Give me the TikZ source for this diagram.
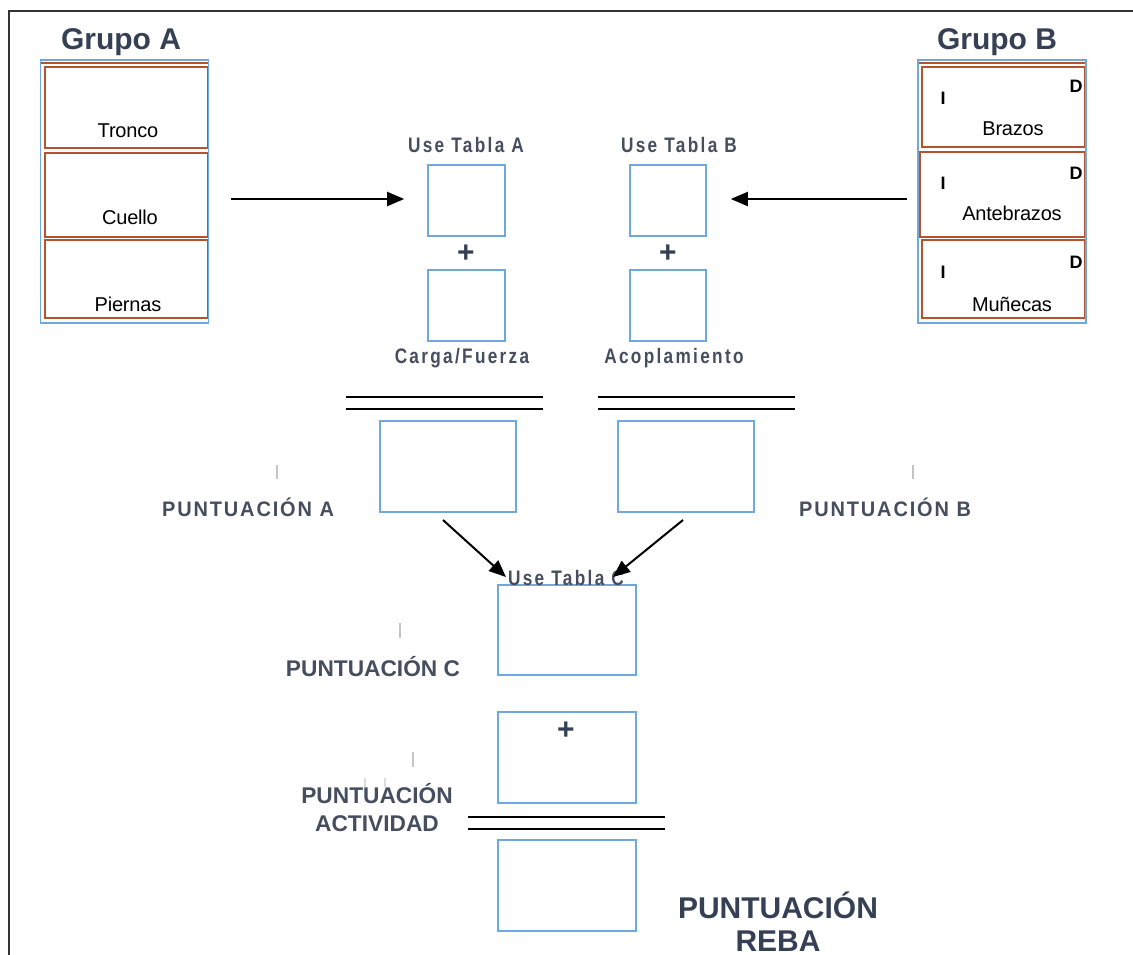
\documentclass[tikz,border=0pt]{standalone}
\usepackage{fontspec}
\setmainfont{Liberation Sans}
\newfontfamily\condf[FakeStretch=0.82,LetterSpace=11,BoldFont={Liberation Sans Bold}]{Liberation Sans}
\newfontfamily\scoref[FakeStretch=0.95,LetterSpace=9,BoldFont={Liberation Sans Bold}]{Liberation Sans}
\newfontfamily\tightf[LetterSpace=-1]{Liberation Sans}
\usetikzlibrary{arrows.meta,calc}
\definecolor{boxblue}{HTML}{6FA8DC}
\definecolor{partorange}{HTML}{B5532C}
\definecolor{headdark}{HTML}{354055}
\definecolor{labgray}{HTML}{454D5E}
\definecolor{tickgray}{HTML}{C4C4C4}
\begin{document}
\begin{tikzpicture}[x=1pt,y=-1pt,
  scorebox/.style={draw=boxblue,line width=1.6pt,minimum width=#1,inner sep=0pt},
  part/.style={draw=partorange,line width=2pt},
  head/.style={font=\bfseries\fontsize{30}{32}\selectfont,text=headdark,inner sep=0pt},
  partname/.style={font=\tightf\fontsize{20}{22}\selectfont,inner sep=0pt},
  side/.style={font=\bfseries\fontsize{18}{20}\selectfont,inner sep=0pt},
  tablab/.style={font=\condf\bfseries\fontsize{21}{23}\selectfont,text=labgray,inner sep=0pt},
  scorelab/.style={font=\scoref\bfseries\fontsize{21}{24}\selectfont,text=labgray,inner sep=0pt},
  plainlab/.style={font=\bfseries\fontsize{22.7}{28}\selectfont,text=labgray,inner sep=0pt,align=center},
  biglab/.style={font=\bfseries\fontsize{30}{32.5}\selectfont,text=headdark,inner sep=0pt,align=center},
  plus/.style={font=\bfseries\fontsize{30}{30}\selectfont,text=headdark,inner sep=0pt},
  arr/.style={-{Triangle[length=17pt,width=14pt]},line width=2pt,black},
  eqline/.style={line width=2.2pt,black},
  tick/.style={draw=tickgray,line width=2pt}]
\useasboundingbox (0,0) rectangle (1133,954);
% outer frame (open to the right and bottom)
\draw[line width=2.5pt,black!80] (9,960) -- (9,11) -- (1140,11);

% ---- Group A ----
\node[head] (grpAt) at (121,42) {Grupo A};
\draw[part] (41,63) -- (208,63);
\draw[part] (45,67) rectangle (208,148);
\draw[part] (45,153) rectangle (208,237);
\draw[part] (45,240) rectangle (208,318);
\node[draw=boxblue,line width=1.6pt,minimum width=168pt,minimum height=263pt,inner sep=0pt] (grpA) at (124.5,191.5) {};
\node[partname] (tronco) at (128,131) {Tronco};
\node[partname] (cuello) at (130,217) {Cuello};
\node[partname] (piernas) at (128,304) {Piernas};

% ---- Group B ----
\node[head] (grpBt) at (997,42) {Grupo B};
\draw[part] (919,63) -- (1085,63);
\draw[part] (922,67) rectangle (1085,147);
\draw[part] (920,152) rectangle (1085,237);
\draw[part] (922,240) rectangle (1085,318);
\node[draw=boxblue,line width=1.6pt,minimum width=168pt,minimum height=263pt,inner sep=0pt] (grpB) at (1002,191.5) {};
\node[partname] (brazos) at (1013,129) {Brazos};
\node[partname] (antebr) at (1012,213) {Antebrazos};
\node[partname] (munecas) at (1012,304) {Muñecas};
\foreach \n/\yi/\yd in {1/98/86,2/183/173,3/272/262}{
  \node[side] (izq\n) at (943,\yi) {I};
  \node[side] (der\n) at (1076,\yd) {D};
}

% ---- Tables A and B ----
\node[tablab] (tabA) at (466,145) {Use Tabla A};
\node[scorebox=77pt,minimum height=71pt] (boxA) at (466.5,200.5) {};
\node[plus] (plusA) at (466,254) {+};
\node[scorebox=77pt,minimum height=71pt] (cargaBox) at (466.5,305.5) {};
\node[tablab] (carga) at (462,358) {Carga/Fuerza};

\node[tablab] (tabB) at (679,145) {Use Tabla B};
\node[scorebox=76pt,minimum height=71pt] (boxB) at (668,200.5) {};
\node[plus] (plusB) at (668,254) {+};
\node[scorebox=76pt,minimum height=71pt] (acopBox) at (668,305.5) {};
\node[tablab] (acop) at (674,358) {Acoplamiento};

\coordinate (tailA) at (231,199);
\coordinate (tailB) at (907,199);
\draw[arr,shorten >=23pt] (tailA) -- (boxA.west |- tailA);
\draw[arr,shorten >=24pt] (tailB) -- (boxB.east |- tailB);

% sum lines
\draw[eqline] (346,397) -- (543,397) (346,409) -- (543,409);
\draw[eqline] (598,397) -- (795,397) (598,409) -- (795,409);

% ---- Scores A and B ----
\node[scorebox=136pt,minimum height=91pt] (scoreA) at (448,466.5) {};
\node[scorebox=136pt,minimum height=91pt] (scoreB) at (686,466.5) {};
\draw[tick] (277,465) -- (277,479);
\draw[tick] (913,465) -- (913,479);
\node[scorelab] (puntA) at (248,507) {PUNTUACIÓN A};
\node[scorelab] (puntB) at (885,507) {PUNTUACIÓN B};

% ---- Table C ----
\node[scorebox=138pt,minimum height=90pt] (scoreC) at (567,630) {};
\coordinate (tipA) at (506,577);
\coordinate (tipB) at (613,577);
\coordinate (fromA) at (443,520);
\coordinate (fromB) at (683,520);
\node[tablab] (tabC) at (566,578) {Use Tabla C};
\draw[arr] (fromA) -- (tipA);
\draw[arr] (fromB) -- (tipB);
\draw[tick] (400,623) -- (400,638);
\node[plainlab] (puntC) at (373,667) {PUNTUACIÓN C};

% ---- Activity ----
\node[scorebox=138pt,minimum height=91pt] (act) at (567,757.5) {};
\node[plus] (plusC) at (566,731) {+};
\draw[tick] (413,752) -- (413,767);
\draw[draw=tickgray!60,line width=1.5pt] (365,778) -- (365,787) (385,778) -- (385,787);
\node[plainlab] (puntAct) at (377,808) {PUNTUACIÓN\\ACTIVIDAD};
\draw[eqline] (468,817) -- (665,817) (468,829) -- (665,829);

% ---- Final score ----
\node[biglab] (rebaLab) at (778,921.5) {PUNTUACIÓN\\REBA};
\node[scorebox=138pt,minimum height=91pt] (reba) at (567,885.5) {};
\end{tikzpicture}
\end{document}
